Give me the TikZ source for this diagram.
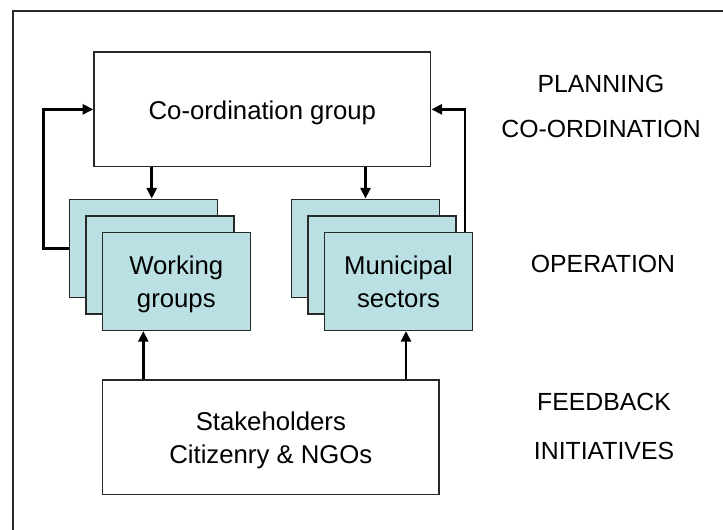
\documentclass[tikz,border=0pt]{standalone}
\usepackage{fontspec}
\setmainfont{Liberation Sans}
\usetikzlibrary{arrows.meta}
\definecolor{boxline}{RGB}{40,40,40}
\definecolor{groupfill}{RGB}{186,224,227}
% taller strut for the first line, so box text sits a little lower
\newcommand{\firstline}{\rule{0pt}{22pt}}
\tikzset{
  plainbox/.style={draw=boxline, line width=1.1pt, fill=white, inner sep=0pt,
    align=center, font=\fontsize{19.3pt}{25pt}\selectfont},
  stackbox/.style={plainbox, fill=groupfill, minimum width=111pt, minimum height=73.5pt},
  flow/.style={line width=2pt, -{Triangle[length=8pt,width=7.5pt]}},
  level/.style={font=\fontsize{18.6pt}{22pt}\selectfont, anchor=center}
}
\begin{document}
\begin{tikzpicture}[x=0.75pt, y=-0.75pt]
  \useasboundingbox (0,0) rectangle (723,529);
  % frame (top and left edges visible)
  \draw[boxline, line width=1.5pt] (12.7,540) -- (12.7,10.7) -- (740,10.7);

  % coordination box
  \node[plainbox, minimum width=252.5pt, minimum height=86pt] (coord) at (262.35,109.35) {\firstline Co-ordination group\strut};

  % working groups stack
  \node[stackbox] (wg1) at (143.3,248.3) {};
  \node[stackbox] (wg2) at (159.8,264.8) {};
  \node[stackbox] (wg3) at (176.3,281.3) {\firstline Working\\groups\strut};

  % municipal sectors stack
  \node[stackbox] (ms1) at (365.5,248.3) {};
  \node[stackbox] (ms2) at (382.0,264.8) {};
  \node[stackbox] (ms3) at (398.5,281.3) {\firstline Municipal\\sectors\strut};

  % stakeholders box
  \node[plainbox, minimum width=252.2pt, minimum height=85.7pt] (stake) at (270.85,437.15) {\firstline Stakeholders\\Citizenry \& NGOs\strut};

  % level labels
  \node[level] (lplan) at (601,83.5) {PLANNING};
  \node[level] (lcoord) at (601,128.5) {CO-ORDINATION};
  \node[level] (lop) at (603,263.5) {OPERATION};
  \node[level] (lfeed) at (604,402) {FEEDBACK};
  \node[level] (linit) at (604,450.5) {INITIATIVES};

  % connector columns
  \coordinate (downA) at (151.7,0);
  \coordinate (downB) at (365.5,0);
  \coordinate (upA) at (143.3,0);
  \coordinate (upB) at (406,0);
  \coordinate (loopL) at (43.3,0);
  \coordinate (loopR) at (465,0);

  % connectors
  \draw[flow] (downA |- coord.south) -- (downA |- wg1.north);
  \draw[flow] (downB |- coord.south) -- (downB |- ms1.north);
  \draw[flow] (upA |- stake.north) -- (upA |- wg3.south);
  \draw[flow] (upB |- stake.north) -- (upB |- ms3.south);
  \draw[flow] (wg1.west) -- (wg1.west -| loopL) |- (coord.west);
  \draw[flow] (loopR |- ms3.north) |- (coord.east);
\end{tikzpicture}
\end{document}
